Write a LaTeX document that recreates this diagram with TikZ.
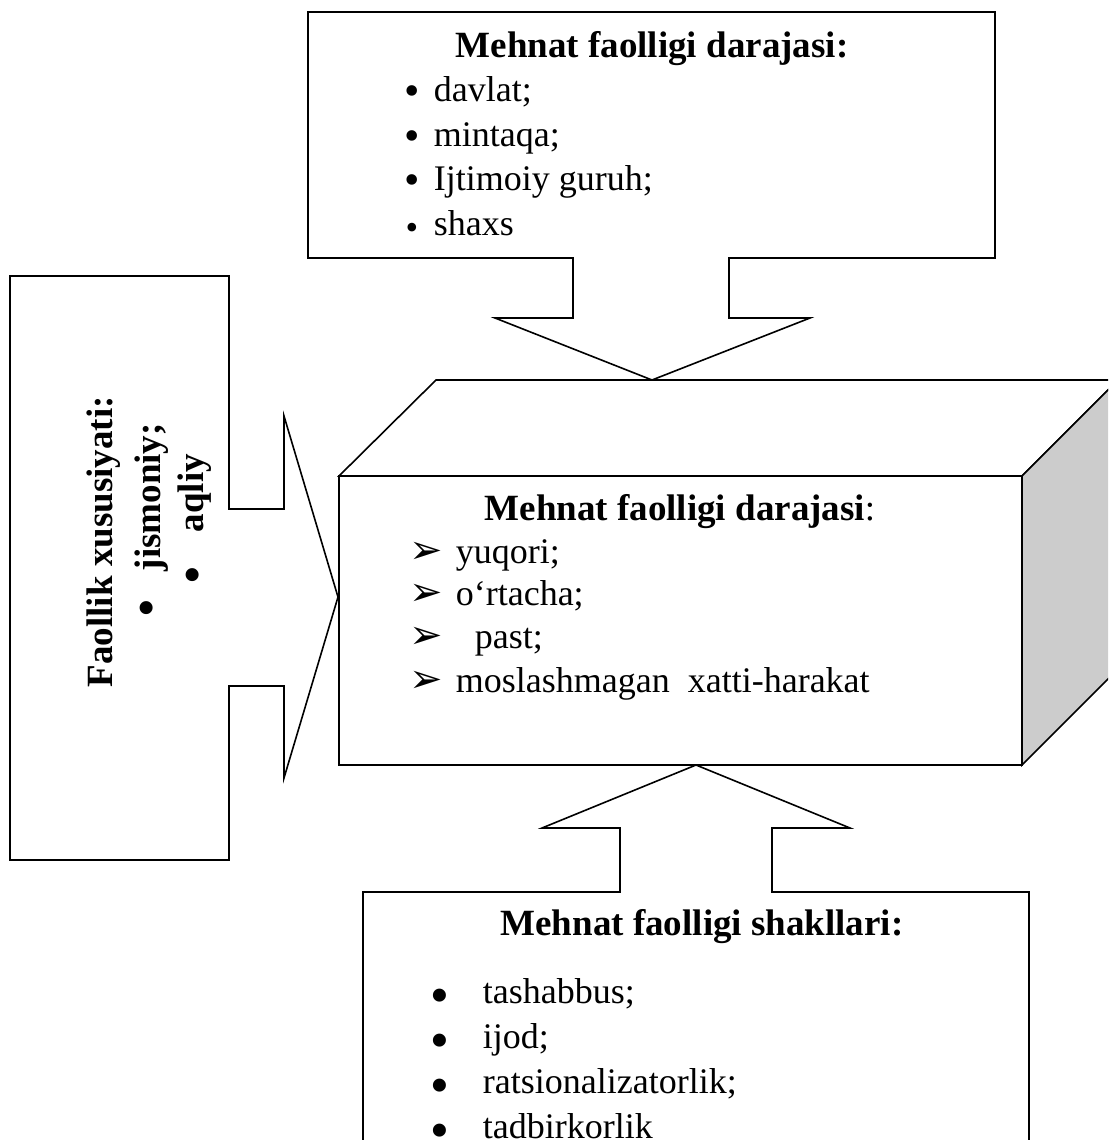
\documentclass[tikz,border=0pt]{standalone}
\usepackage{fontspec}
\setmainfont{Liberation Serif}
\newfontfamily\arrowfont{DejaVu Sans}

\begin{document}
\begin{tikzpicture}[x=1pt,y=-1pt,line width=1.6pt]
\tikzstyle{head} = [font=\fontsize{37}{43}\selectfont\bfseries,inner sep=0pt]
\tikzstyle{item} = [font=\fontsize{36}{43}\selectfont,inner sep=0pt,anchor=base west]
\tikzstyle{dot} = [inner sep=0pt,anchor=base]

\useasboundingbox (0,0) rectangle (1108,1140);
\clip (0,0) rectangle (1108,1140);

% the box in the middle
\draw[fill=white] (339,476) -- (436,380) -- (1118,380) -- (1022,476) -- cycle;
\draw[fill=black!20] (1022,476) -- (1118,380) -- (1118,669) -- (1022,765) -- cycle;
\draw (339,476) rectangle (1022,765);

% arrow boxes pointing at it
\draw (308,12) -- (995,12) -- (995,258) -- (729,258) -- (729,318) -- (810,318)
  -- (652,380) -- (495,318) -- (573,318) -- (573,258) -- (308,258) -- cycle;
\draw (10,276) -- (229,276) -- (229,509) -- (284,509) -- (284,416) -- (338,597)
  -- (284,778) -- (284,686) -- (229,686) -- (229,860) -- (10,860) -- cycle;
\draw (363,1160) -- (363,892) -- (620,892) -- (620,828) -- (542,828) -- (696,765)
  -- (850,828) -- (772,828) -- (772,892) -- (1029,892) -- (1029,1160);

% top
\node[head,anchor=base] (toptitle) at (652,57) {Mehnat faolligi darajasi:};
\foreach \y/\s/\t [count=\i] in {101/44/{davlat;},146/44/{mintaqa;},190/44/{Ijtimoiy guruh;},235/36/{shaxs}}{
  \node[dot,font=\fontsize{\s}{\s}\selectfont] (topdot\i) at (412,\y+4) {•};
  \node[item] (topitem\i) at (433,\y) {\t};
}

% middle
\node[head,anchor=base] (midtitle) at (680,520) {Mehnat faolligi darajasi\mdseries:};
\foreach \y/\x/\t [count=\i] in {563/455/{yuqori;},605/455/{o‘rtacha;},648/474/{past;},692/455/{moslashmagan\ \ xatti-harakat}}{
  \node[item,font=\fontsize{40}{40}\arrowfont] (midarr\i) at (409,\y) {➢};
  \node[item] (miditem\i) at (\x,\y) {\t};
}

% left, turned on its side
\node[head,rotate=90,anchor=base west] (lefttitle) at (112,688) {Faollik xususiyati:};
\node[dot,font=\fontsize{48}{48}\selectfont\bfseries,rotate=90] (leftdot1) at (162,608) {•};
\node[head,rotate=90,anchor=base west] (leftitem1) at (160,572) {jismoniy;};
\node[dot,font=\fontsize{48}{48}\selectfont\bfseries,rotate=90] (leftdot2) at (208,575) {•};
\node[head,rotate=90,anchor=base west] (leftitem2) at (203,533) {aqliy};

% bottom
\node[head,anchor=base] (bottitle) at (702,935) {Mehnat faolligi shakllari:};
\foreach \y/\t [count=\i] in {1003/{tashabbus;},1048/{ijod;},1093/{ratsionalizatorlik;},1138/{tadbirkorlik}}{
  \node[dot,font=\fontsize{48}{48}\selectfont\bfseries] (botdot\i) at (440,\y+8) {•};
  \node[item] (botitem\i) at (482,\y) {\t};
}
\end{tikzpicture}
\end{document}
